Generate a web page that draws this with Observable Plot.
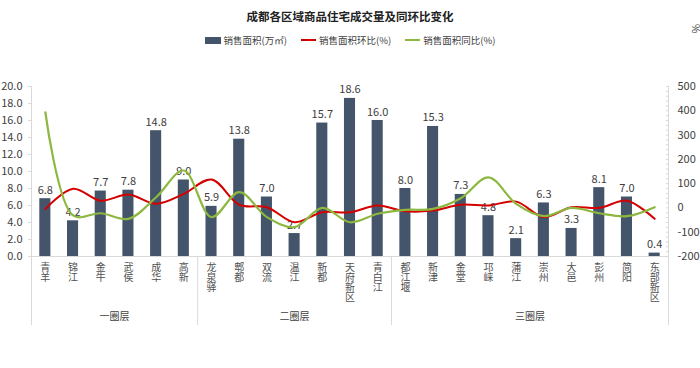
<!DOCTYPE html>
<html><head><meta charset="utf-8">
<script src="https://cdn.jsdelivr.net/npm/d3@7"></script>
<script src="https://cdn.jsdelivr.net/npm/@observablehq/plot@0.6"></script>
<style>
body{margin:0;background:#fff;font-family:"Noto Sans CJK SC","Noto Sans",sans-serif;}
#wrap{position:relative;width:700px;height:368px;}
#title{position:absolute;top:8px;left:0;width:700px;text-align:center;font-size:11.5px;font-weight:bold;color:#222;}
#legend{position:absolute;top:33px;left:0;width:700px;display:flex;justify-content:center;align-items:center;font-size:9.5px;color:#404040;}
#legend .it{display:flex;align-items:center;margin:0 7px;}
#legend .sw{width:16px;height:7px;background:#44546A;margin-right:3px;}
#legend .ln{width:15px;height:2px;margin-right:3px;}
#pct{position:absolute;left:692px;top:21px;font-size:10px;color:#404040;transform:rotate(90deg);}
svg{position:absolute;left:0;top:0;}
</style></head>
<body><div id="wrap">
<div id="title">成都各区域商品住宅成交量及同环比变化</div>
<div id="legend">
 <div class="it"><div class="sw"></div>销售面积(万㎡)</div>
 <div class="it"><div class="ln" style="background:#D40000"></div>销售面积环比(%)</div>
 <div class="it"><div class="ln" style="background:#8DB83F"></div>销售面积同比(%)</div>
</div>
<div id="pct">%</div>
</div>
<script>
const districts = ["青羊","锦江","金牛","武侯","成华","高新","龙泉驿","郫都","双流","温江","新都","天府新区","青白江","都江堰","新津","金堂","邛崃","蒲江","崇州","大邑","彭州","简阳","东部新区"];
const area = [6.8,4.2,7.7,7.8,14.8,9.0,5.9,13.8,7.0,2.7,15.7,18.6,16.0,8.0,15.3,7.3,4.8,2.1,6.3,3.3,8.1,7.0,0.4];
const mom = [-5,79,30,55,17,58,117,13,3,-59,-18,-18,10,-14,-11,13,10,26,-38,3,0,30,-45];
const yoy = [394,-31,-22,-45,44,154,-38,65,-38,-79,0,-59,-24,-8,-4,40,126,17,-34,0,-22,-34,3];
const groups = ["一圈层","二圈层","三圈层"];
const groupStart = ["青羊","龙泉驿","都江堰"];
const leftTicks = [0,2,4,6,8,10,12,14,16,18,20];
const rightTicks = [-200,-100,0,100,200,300,400,500];

const W = 700, H = 368, mL = 31, mR = 32, mT = 86, mB = 112;
const n = districts.length;
const toL = v => (v + 200) * 20 / 700;   // right-axis value -> left scale
const fromL = y => Math.round(y * 700 / 20 - 200);
const below = -(325 - 256) / ((H - mT - mB) / 20);
const gy = -(316 - 256) / ((H - mT - mB) / 20);

const rows = districts.map((d, i) => ({d, i, area: area[i], mom: mom[i], yoy: yoy[i]}));
const starts = groupStart.map(g => districts.indexOf(g));
const ends = [...starts.slice(1), n];
const glab = groups.map((g, k) => ({g, c: (starts[k] + ends[k] - 1) / 2}));
const minor = d3.range(-200, 501, 20).map(toL);

const chart = Plot.plot({
  width: W, height: H, marginLeft: mL, marginRight: mR, marginTop: mT, marginBottom: mB,
  style: {fontFamily: '"Noto Sans CJK SC","Noto Sans",sans-serif', color: "#404040", background: "transparent"},
  x: {type: "linear", domain: [-0.5, n - 0.5], axis: null, label: null},
  y: {domain: [0, 20], axis: null, label: null},
  marks: [
    Plot.ruleY([0], {stroke: "#D9D9D9"}),
    Plot.ruleX([-0.5, n - 0.5], {y1: below, y2: 20, stroke: "#D9D9D9"}),
    Plot.ruleX(starts.slice(1), {x: s => s - 0.5, y1: 0, y2: below, stroke: "#D9D9D9"}),
    Plot.rectY(rows, {x1: r => r.i - 0.2, x2: r => r.i + 0.2, y: "area", fill: "#44546A"}),
    Plot.text(rows, {x: "i", y: "area", text: r => r.area.toFixed(1), dy: -5, lineAnchor: "bottom", fontSize: 11, fill: "#404040"}),
    Plot.line(rows, {x: "i", y: r => toL(r.mom), stroke: "#D40000", strokeWidth: 2, curve: "catmull-rom"}),
    Plot.line(rows, {x: "i", y: r => toL(r.yoy), stroke: "#8DB83F", strokeWidth: 2.2, curve: "catmull-rom"}),
    Plot.axisY({anchor: "left", ticks: leftTicks, tickFormat: d => d.toFixed(1), tickSize: 3, tickPadding: 6, fontSize: 11, fill: "#404040", stroke: "#D9D9D9", label: null}),
    Plot.axisY({anchor: "right", ticks: rightTicks.map(toL), tickFormat: fromL, tickSize: 0, tickPadding: 9, fontSize: 11, fill: "#404040", label: null}),
    Plot.axisY({anchor: "right", ticks: minor, tickFormat: () => "", tickSize: 3, dx: -3, stroke: "#D9D9D9", label: null}),
    Plot.text(rows, {x: "i", y: 0, text: r => r.d.split("").join("\n"), lineAnchor: "top", dy: 7, fontSize: 10, lineHeight: 1.0, fill: "#505050"}),
    Plot.text(glab, {x: "c", y: gy, text: "g", fontSize: 10, fill: "#404040"})
  ]
});
document.getElementById("wrap").appendChild(chart);
</script>
</body></html>
